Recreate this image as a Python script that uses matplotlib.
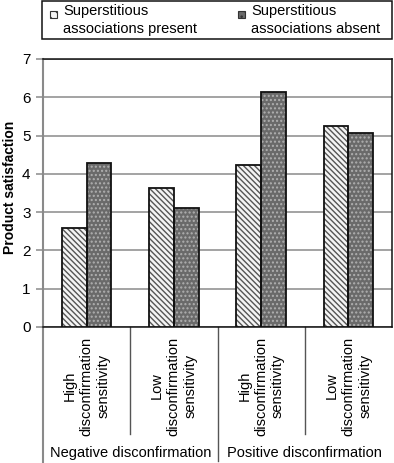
import matplotlib
matplotlib.use("Agg")
import matplotlib.pyplot as plt
import matplotlib.transforms as mtransforms
from matplotlib.patches import Rectangle
import numpy as np

plt.rcParams['font.family'] = ['Liberation Sans', 'DejaVu Sans']

categories = ["High\ndisconfirmation\nsensitivity", "Low\ndisconfirmation\nsensitivity",
              "High\ndisconfirmation\nsensitivity", "Low\ndisconfirmation\nsensitivity"]
groups = ["Negative disconfirmation", "Positive disconfirmation"]
series_names = ["Superstitious\nassociations present", "Superstitious\nassociations absent"]
present = [2.59, 3.64, 4.22, 5.24]
absent = [4.29, 3.11, 6.13, 5.07]
yticks = [0, 1, 2, 3, 4, 5, 6, 7]

W, H = 394, 463
fig = plt.figure(figsize=(W / 100, H / 100), dpi=100)
ax = fig.add_axes([43 / W, 1 - 327 / H, (392 - 43) / W, (327 - 59) / H])

x = np.arange(len(categories))
bw = 0.285
styles = [
    dict(face="#f4f4f4", hatch_col="#555555", hatch="\\\\\\\\\\\\"),
    dict(face="#6a6a6a", hatch_col="#b0b0b0", hatch="...."),
]
for k, vals in enumerate([present, absent]):
    pos = x + (k - 0.5) * bw
    st = styles[k]
    ax.bar(pos, vals, width=bw, color=st["face"], edgecolor=st["hatch_col"],
           hatch=st["hatch"], linewidth=0, zorder=3)
    ax.bar(pos, vals, width=bw, fill=False, edgecolor="#111111", linewidth=1.3, zorder=4)

ax.set_xlim(-0.5, 3.5)
ax.set_ylim(0, 7)
ax.set_yticks(yticks)
ax.set_yticklabels([str(t) for t in yticks], fontsize=11)
ax.set_xticks([])
ax.yaxis.grid(True, color="#8a8a8a", linewidth=1.1, zorder=0)
ax.set_axisbelow(True)
ax.tick_params(axis='y', length=5, width=1.1, color="#8a8a8a", pad=4)
for s in ["top", "right", "bottom"]:
    ax.spines[s].set_color("#111111")
    ax.spines[s].set_linewidth(1.1)
ax.spines["left"].set_color("#8a8a8a")
ax.spines["left"].set_linewidth(1.5)
fig.text(10 / W, 1 - 187 / H, "Product satisfaction", rotation=90, ha="center", va="center",
         fontsize=10, fontweight="bold")

trans = mtransforms.blended_transform_factory(ax.transData, ax.transAxes)
# separators below axis
ax.plot([-0.5, -0.5], [0, -0.51], transform=trans, color="#8a8a8a", lw=1.5, clip_on=False)
for xs in [0.5, 2.5]:
    ax.plot([xs, xs], [0, -0.40], transform=trans, color="#555555", lw=1.0, clip_on=False)
ax.plot([1.5, 1.5], [0, -0.50], transform=trans, color="#555555", lw=1.0, clip_on=False)

for i, c in enumerate(categories):
    ax.text(i, -0.22, c, transform=trans, rotation=90, ha="center", va="center",
            fontsize=10.5, linespacing=1.25, multialignment="center")
for j, g in enumerate(groups):
    ax.text(0.5 + 2 * j, -0.47, g, transform=trans, ha="center", va="center", fontsize=10.5)

# legend (drawn manually in figure pixel coordinates)
def fx(px):
    return px / W

def fy(py):
    return 1 - py / H

fig.patches.append(Rectangle((fx(42), fy(39)), fx(392) - fx(42), fy(1) - fy(39),
                             transform=fig.transFigure, fill=False, edgecolor="#111111",
                             linewidth=1.1))
leg_x = [50, 238]
for k, name in enumerate(series_names):
    st = styles[k]
    x0 = leg_x[k]
    fig.patches.append(Rectangle((fx(x0), fy(18)), 7 / W, 7 / H, transform=fig.transFigure,
                                 facecolor=st["face"], edgecolor="#333333",
                                 hatch=st["hatch"][:3], linewidth=0.8))
    fig.text(fx(x0 + 13), fy(4.5), name, ha="left", va="top", fontsize=10.5, linespacing=1.3)

fig.savefig("out.png", dpi=100)
